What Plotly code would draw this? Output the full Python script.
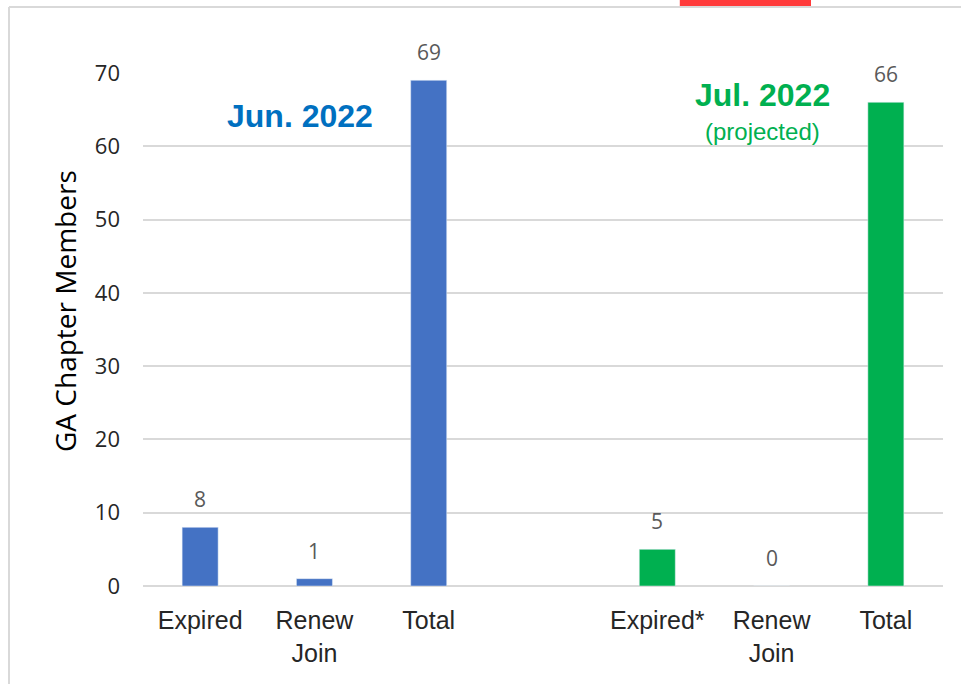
import plotly.graph_objects as go

categories = ["Expired", "Renew<br>Join", "Total", "", "Expired*", "Renew<br>Join", "Total"]
jun_values = [8, 1, 69, None, None, None, None]
jul_values = [None, None, None, None, 5, 0, 66]
y_ticks = [0, 10, 20, 30, 40, 50, 60, 70]

x_idx = list(range(len(categories)))
NARROW = "Liberation Sans Narrow, Arial Narrow, Liberation Sans, sans-serif"

fig = go.Figure()
fig.add_trace(go.Bar(
    x=x_idx, y=jun_values, marker_color="#4472C4", width=0.315,
    hoverinfo="skip", showlegend=False,
))
fig.add_trace(go.Bar(
    x=x_idx, y=jul_values, marker_color="#00B050", width=0.315,
    hoverinfo="skip", showlegend=False,
))

annotations = []
for vals in (jun_values, jul_values):
    for i, v in zip(x_idx, vals):
        if v is None:
            continue
        annotations.append(dict(
            x=i, y=v, xref="x", yref="y", text=str(v), showarrow=False,
            xanchor="center", yanchor="bottom", yshift=12,
            font=dict(family="Open Sans, sans-serif", size=21, color="#595959"),
        ))

annotations += [
    dict(text="<b>Jun. 2022</b>", xref="paper", yref="paper", x=(300-143)/800, y=1-(116-73)/513,
         showarrow=False, xanchor="center", yanchor="middle",
         font=dict(family=NARROW, size=32, color="#0070C0")),
    dict(text="<b>Jul. 2022</b>", xref="paper", yref="paper", x=(762-143)/800, y=1-(95-73)/513,
         showarrow=False, xanchor="center", yanchor="middle",
         font=dict(family=NARROW, size=32, color="#00B050")),
    dict(text="(projected)", xref="paper", yref="paper", x=(762-143)/800, y=1-(132-73)/513,
         showarrow=False, xanchor="center", yanchor="middle",
         font=dict(family=NARROW, size=24, color="#00B050")),
    dict(text="GA Chapter Members", xref="paper", yref="paper", x=(65-143)/800, y=1-(311-73)/513,
         showarrow=False, xanchor="center", yanchor="middle", textangle=-90,
         font=dict(family="Open Sans, sans-serif", size=28, color="#000000")),
]

fig.update_layout(
    width=961, height=684,
    margin=dict(l=143, r=18, t=73, b=98),
    paper_bgcolor="white", plot_bgcolor="white",
    barmode="overlay",
    xaxis=dict(
        range=[-0.5, 6.5], tickmode="array", tickvals=x_idx, ticktext=categories,
        showgrid=False, zeroline=False, showline=False, ticks="", ticklabelstandoff=17,
        tickfont=dict(family=NARROW, size=25, color="#262626"),
    ),
    yaxis=dict(
        range=[0, 70], tickmode="array", tickvals=y_ticks,
        showgrid=True, gridcolor="#D9D9D9", gridwidth=2,
        zeroline=True, zerolinecolor="#D9D9D9", zerolinewidth=2,
        ticks="", ticklabelstandoff=22,
        tickfont=dict(family="Open Sans, sans-serif", size=22, color="#262626"),
    ),
    shapes=[
        dict(type="line", xref="paper", yref="paper", x0=-0.1675, x1=-0.1675, y0=1.1287, y1=-0.3,
             line=dict(color="#D9D9D9", width=2)),
        dict(type="line", xref="paper", yref="paper", x0=-0.1675, x1=1.1, y0=1.1287, y1=1.1287,
             line=dict(color="#D9D9D9", width=2)),
        dict(type="rect", xref="paper", yref="paper", x0=0.671, x1=0.835, y0=1.1306, y1=1.16,
             fillcolor="#FF3B3B", line=dict(width=0)),
    ],
    annotations=annotations,
)

fig.write_html("out.html", config={"displayModeBar": False},
               post_script="document.body.style.margin='0';window.dispatchEvent(new Event('resize'));")
